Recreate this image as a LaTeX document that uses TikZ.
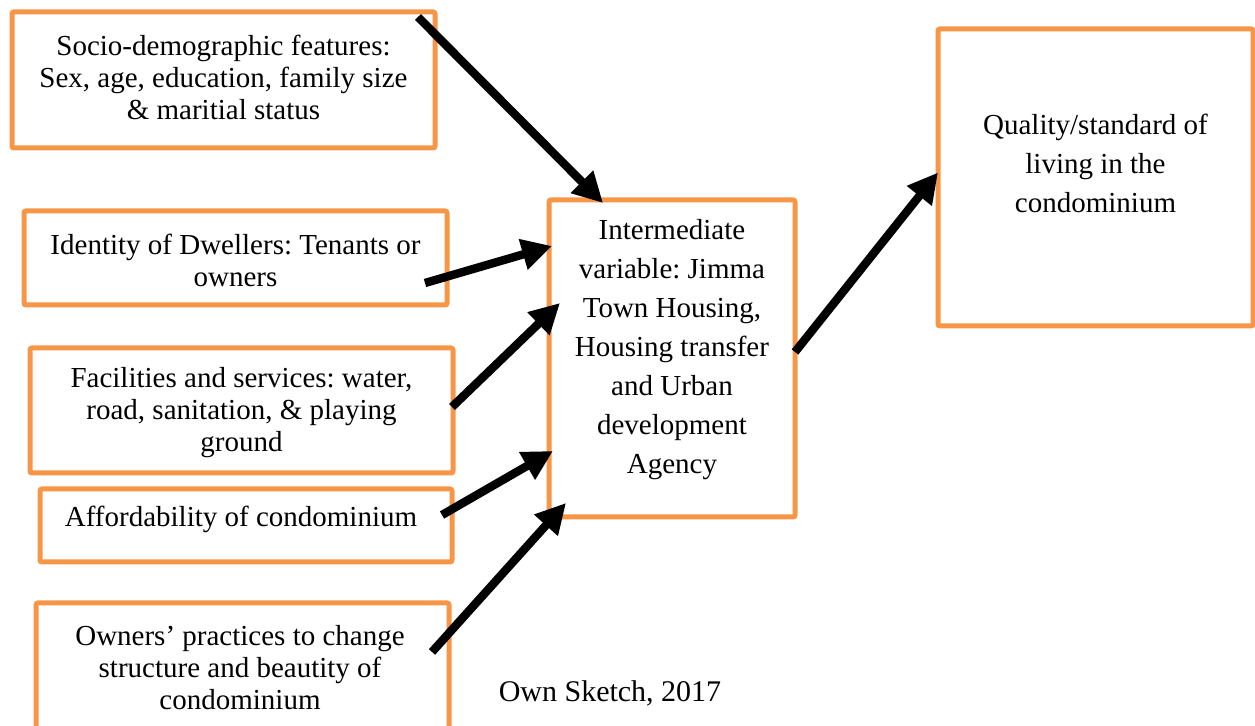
\documentclass[tikz,border=0pt]{standalone}
\usepackage{fontspec}
\setmainfont{Liberation Serif}
\usetikzlibrary{arrows.meta,calc}
\definecolor{boxorange}{HTML}{F79646}
\frenchspacing
\begin{document}
\begin{tikzpicture}[x=0.5pt,y=-0.5pt,
  box/.style={draw=boxorange,line width=2.5pt,rectangle,rounded corners=1pt,
    outer sep=0pt,inner sep=0pt,fill=white},
  lefttxt/.style={align=center,inner sep=0pt,font=\fontsize{14.5}{16}\selectfont},
  righttxt/.style={align=center,inner sep=0pt,font=\fontsize{14.5}{19.5}\selectfont},
  link/.style={line width=4.2pt,-{Triangle[length=15pt,width=15pt]}}]
\useasboundingbox (0,0) rectangle (1255,726);

% input boxes on the left
\node[box,minimum width=211.5pt,minimum height=68pt] (soc) at (223.5,80) {};
\node[lefttxt] (soct) at (223.5,77) {Socio-demographic features:\\Sex, age, education, family size\\\& maritial status};

\node[box,minimum width=211.5pt,minimum height=47pt] (idn) at (235.5,258) {};
\node[lefttxt] (idnt) at (235.5,260) {Identity of Dwellers: Tenants or\\owners};

\node[box,minimum width=211.5pt,minimum height=62.5pt] (fac) at (241.5,410.5) {};
\node[lefttxt] (fact) at (241.5,413) {Facilities and services: water,\\road, sanitation, \& playing\\ground};

\node[box,minimum width=206pt,minimum height=36.5pt] (aff) at (246,525.5) {};
\node[lefttxt] (afft) at (241,519) {Affordability of condominium};

\node[box,minimum width=206.5pt,minimum height=65pt] (own) at (242.5,668) {};
\node[lefttxt] (ownt) at (240,668) {Owners’ practices to change\\structure and beautity of\\condominium};

% intermediate and outcome boxes
\node[box,minimum width=123pt,minimum height=158.5pt] (mid) at (672,358.5) {};
\node[righttxt] (midt) at (672,349.5) {Intermediate\\variable: Jimma\\Town Housing,\\Housing transfer\\and Urban\\development\\Agency};

\node[box,minimum width=157.5pt,minimum height=148.5pt] (qual) at (1095.5,177.5) {};
\node[righttxt] (qualt) at (1095.5,163) {Quality/standard of\\living in the\\condominium};

\node[lefttxt,font=\fontsize{15}{18}\selectfont] (src) at (610,693) {Own Sketch, 2017};

% connectors
\draw[link] ($(soc.north east)+(-17,5)$) -- ($(mid.north west)+(54,3)$);
\draw[link] ($(idn.south east)+(-22,-22)$) -- ($(mid.north west)+(3,46)$);
\draw[link] ($(fac.east)+(-1,-3.5)$) -- ($(mid.north west)+(11,103)$);
\draw[link] ($(aff.north east)+(-10,26)$) -- ($(mid.north west)+(4,251)$);
\draw[link] ($(own.north east)+(-17,49)$) -- ($(mid.south west)+(17,-14)$);
\draw[link] ($(mid.east)+(0,-6.5)$) -- ($(qual.west)+(0,-5)$);
\end{tikzpicture}
\end{document}
